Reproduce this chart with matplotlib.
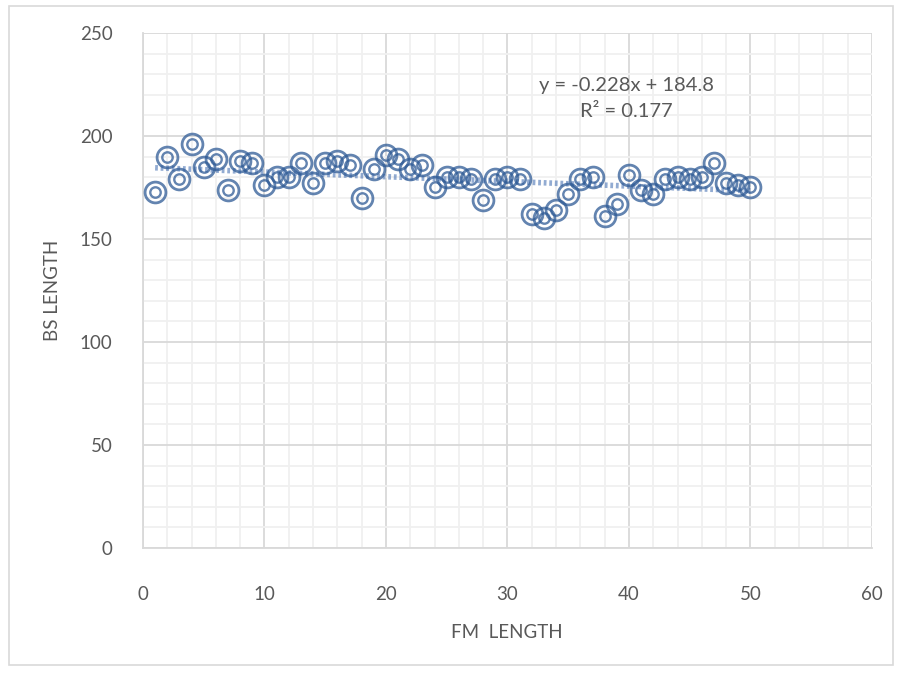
import matplotlib
matplotlib.use("Agg")
import matplotlib.pyplot as plt
from matplotlib.patches import Rectangle
from matplotlib.ticker import MultipleLocator

# FM length index vs BS length
fm_length = list(range(1, 51))
bs_length = [173, 190, 179, 196, 185, 189, 174, 188, 187, 176,
             180, 180, 187, 177, 187, 188, 186, 170, 184, 191,
             189, 184, 186, 175, 180, 180, 179, 169, 179, 180,
             179, 162, 160, 164, 172, 179, 180, 161, 167, 181,
             174, 172, 179, 180, 179, 180, 187, 177, 176, 175]
slope, intercept, r2 = -0.228, 184.8, 0.177

TEXT = "#595959"
MARK = "#2f5b96"
plt.rcParams["font.family"] = ["Lato", "DejaVu Sans"]

fig = plt.figure(figsize=(9.02, 6.73), dpi=100)
ax = fig.add_axes([0.1585, 0.1857, 0.8082, 0.7653])

# chart frame
fig.patches.append(Rectangle((9 / 902, 8 / 673), 884 / 902, 659 / 673,
                             transform=fig.transFigure, fill=False,
                             edgecolor="#d9d9d9", lw=1.2))

ax.set_xlim(0, 60)
ax.set_ylim(0, 250)
ax.xaxis.set_major_locator(MultipleLocator(10))
ax.xaxis.set_minor_locator(MultipleLocator(2))
ax.yaxis.set_major_locator(MultipleLocator(50))
ax.yaxis.set_minor_locator(MultipleLocator(10))
ax.grid(which="major", color="#d9d9d9", lw=1.3)
ax.grid(which="minor", color="#f0f0f0", lw=1.3)
ax.set_axisbelow(True)
for s in ("top", "right"):
    ax.spines[s].set_visible(False)
for s in ("left", "bottom"):
    ax.spines[s].set_color("#d9d9d9")
    ax.spines[s].set_linewidth(1.3)
ax.tick_params(which="both", length=0, labelsize=13.5, colors=TEXT)
ax.tick_params(axis="x", pad=27)
ax.tick_params(axis="y", pad=22)

# linear trendline
tx = [fm_length[0], fm_length[-1]]
ax.plot(tx, [slope * v + intercept for v in tx], color="#4a74b4", lw=4,
        ls=(0, (0.5, 0.5)), alpha=0.6, zorder=2)

# double-ring markers
ax.plot(fm_length, bs_length, ls="none", marker="o", ms=15, mfc="none",
        mec=MARK, mew=2.0, alpha=0.75, zorder=3)
ax.plot(fm_length, bs_length, ls="none", marker="o", ms=7.5, mfc="none",
        mec=MARK, mew=1.7, alpha=0.75, zorder=3)

ax.text(39.8, 224.3, f"y = {slope}x + {intercept}", ha="center", va="center",
        fontsize=14.5, color=TEXT)
ax.text(39.8, 211.8, f"R² = {r2}", ha="center", va="center",
        fontsize=14.5, color=TEXT)

fig.text(507 / 902, 1 - 632 / 673, "FM  LENGTH", ha="center", va="center",
         fontsize=13.5, color=TEXT)
fig.text(52 / 902, 1 - 290 / 673, "BS LENGTH", ha="center", va="center",
         rotation=90, fontsize=13.5, color=TEXT)

fig.savefig("out.png", dpi=100)
